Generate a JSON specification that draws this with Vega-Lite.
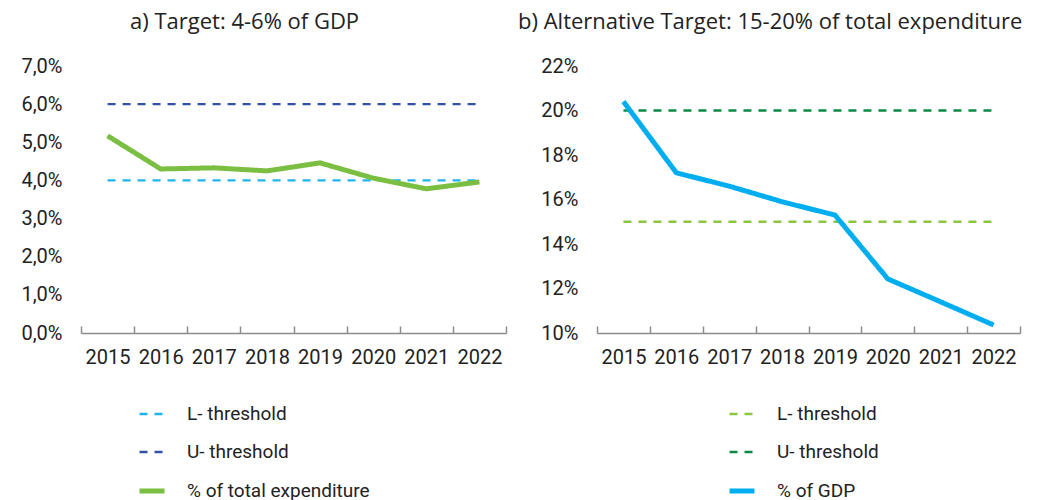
{
  "$schema": "https://vega.github.io/schema/vega-lite/v6.json",
  "background": "white",
  "padding": {"left": 20, "top": 11, "right": 10, "bottom": 0},
  "config": {
    "locale": {"number": {"decimal": ",", "thousands": ".", "grouping": [3], "currency": ["", " €"]}},
    "view": {"stroke": null},
    "font": "Roboto",
    "axisY": {"domain": false, "ticks": false, "grid": false, "labelFontSize": 20, "labelColor": "#222222", "labelPadding": 19, "labelFont": "Roboto", "title": null},
    "axisX": {"domainColor": "#8c8c8c", "domainWidth": 1.5, "tickColor": "#8c8c8c", "tickWidth": 1.5, "tickSize": -7, "tickBand": "extent", "labelAngle": 0, "labelFontSize": 20, "labelColor": "#222222", "labelPadding": 21, "labelFont": "Roboto", "title": null, "grid": false},
    "legend": {"orient": "none", "direction": "vertical", "title": null, "labelFontSize": 19, "labelColor": "#222222", "labelFont": "Roboto", "labelLimit": 400, "symbolType": "stroke", "symbolSize": 625, "rowPadding": 14, "labelOffset": 20}
  },
  "datasets": {
    "a": [
      {"year": "2015", "series": "L- threshold", "value": 0.04},
      {"year": "2016", "series": "L- threshold", "value": 0.04},
      {"year": "2017", "series": "L- threshold", "value": 0.04},
      {"year": "2018", "series": "L- threshold", "value": 0.04},
      {"year": "2019", "series": "L- threshold", "value": 0.04},
      {"year": "2020", "series": "L- threshold", "value": 0.04},
      {"year": "2021", "series": "L- threshold", "value": 0.04},
      {"year": "2022", "series": "L- threshold", "value": 0.04},
      {"year": "2015", "series": "U- threshold", "value": 0.06},
      {"year": "2016", "series": "U- threshold", "value": 0.06},
      {"year": "2017", "series": "U- threshold", "value": 0.06},
      {"year": "2018", "series": "U- threshold", "value": 0.06},
      {"year": "2019", "series": "U- threshold", "value": 0.06},
      {"year": "2020", "series": "U- threshold", "value": 0.06},
      {"year": "2021", "series": "U- threshold", "value": 0.06},
      {"year": "2022", "series": "U- threshold", "value": 0.06},
      {"year": "2015", "series": "% of total expenditure", "value": 0.0517},
      {"year": "2016", "series": "% of total expenditure", "value": 0.0430},
      {"year": "2017", "series": "% of total expenditure", "value": 0.0433},
      {"year": "2018", "series": "% of total expenditure", "value": 0.0425},
      {"year": "2019", "series": "% of total expenditure", "value": 0.0446},
      {"year": "2020", "series": "% of total expenditure", "value": 0.0406},
      {"year": "2021", "series": "% of total expenditure", "value": 0.0378},
      {"year": "2022", "series": "% of total expenditure", "value": 0.0396}
    ],
    "b": [
      {"year": "2015", "series": "L- threshold", "value": 0.15},
      {"year": "2016", "series": "L- threshold", "value": 0.15},
      {"year": "2017", "series": "L- threshold", "value": 0.15},
      {"year": "2018", "series": "L- threshold", "value": 0.15},
      {"year": "2019", "series": "L- threshold", "value": 0.15},
      {"year": "2020", "series": "L- threshold", "value": 0.15},
      {"year": "2021", "series": "L- threshold", "value": 0.15},
      {"year": "2022", "series": "L- threshold", "value": 0.15},
      {"year": "2015", "series": "U- threshold", "value": 0.20},
      {"year": "2016", "series": "U- threshold", "value": 0.20},
      {"year": "2017", "series": "U- threshold", "value": 0.20},
      {"year": "2018", "series": "U- threshold", "value": 0.20},
      {"year": "2019", "series": "U- threshold", "value": 0.20},
      {"year": "2020", "series": "U- threshold", "value": 0.20},
      {"year": "2021", "series": "U- threshold", "value": 0.20},
      {"year": "2022", "series": "U- threshold", "value": 0.20},
      {"year": "2015", "series": "% of GDP", "value": 0.204},
      {"year": "2016", "series": "% of GDP", "value": 0.172},
      {"year": "2017", "series": "% of GDP", "value": 0.166},
      {"year": "2018", "series": "% of GDP", "value": 0.159},
      {"year": "2019", "series": "% of GDP", "value": 0.153},
      {"year": "2020", "series": "% of GDP", "value": 0.1243},
      {"year": "2021", "series": "% of GDP", "value": 0.114},
      {"year": "2022", "series": "% of GDP", "value": 0.1036}
    ]
  },
  "hconcat": [
    {
      "width": 425,
      "height": 267,
      "title": {"text": "a) Target: 4-6% of GDP", "anchor": "start", "frame": "group", "dx": 49, "font": "Open Sans", "fontSize": 22, "fontWeight": "normal", "color": "#222222", "offset": 22},
      "data": {"name": "a"},
      "mark": {"type": "line"},
      "encoding": {
        "x": {"field": "year", "type": "ordinal", "scale": {"type": "band", "paddingInner": 0, "paddingOuter": 0}},
        "y": {"field": "value", "type": "quantitative", "scale": {"domain": [0, 0.07], "nice": false, "zero": false}, "axis": {"format": ".1%", "values": [0, 0.01, 0.02, 0.03, 0.04, 0.05, 0.06, 0.07]}},
        "color": {"field": "series", "type": "nominal", "scale": {"domain": ["L- threshold", "U- threshold", "% of total expenditure"], "range": ["#1fb5ea", "#3152a2", "#7bbf42"]}, "legend": {"legendX": 56, "legendY": 334}},
        "strokeDash": {"field": "series", "type": "nominal", "scale": {"domain": ["L- threshold", "U- threshold", "% of total expenditure"], "range": [[8, 7], [8, 7], [1, 0]]}, "legend": {"legendX": 56, "legendY": 334}},
        "strokeWidth": {"field": "series", "type": "nominal", "scale": {"type": "ordinal", "domain": ["L- threshold", "U- threshold", "% of total expenditure"], "range": [2.3, 2.3, 5]}, "legend": {"legendX": 56, "legendY": 334}}
      }
    },
    {
      "width": 423,
      "height": 267,
      "title": {"text": "b) Alternative Target: 15-20% of total expenditure", "anchor": "start", "frame": "group", "dx": -79, "font": "Open Sans", "fontSize": 22, "fontWeight": "normal", "color": "#222222", "offset": 22},
      "data": {"name": "b"},
      "mark": {"type": "line"},
      "encoding": {
        "x": {"field": "year", "type": "ordinal", "scale": {"type": "band", "paddingInner": 0, "paddingOuter": 0}},
        "y": {"field": "value", "type": "quantitative", "scale": {"domain": [0.10, 0.22], "nice": false, "zero": false}, "axis": {"format": ".0%", "values": [0.10, 0.12, 0.14, 0.16, 0.18, 0.20, 0.22]}},
        "color": {"field": "series", "type": "nominal", "scale": {"domain": ["L- threshold", "U- threshold", "% of GDP"], "range": ["#8cc63f", "#0a8a45", "#00aeef"]}, "legend": {"legendX": 130, "legendY": 334}},
        "strokeDash": {"field": "series", "type": "nominal", "scale": {"domain": ["L- threshold", "U- threshold", "% of GDP"], "range": [[8, 7], [8, 7], [1, 0]]}, "legend": {"legendX": 130, "legendY": 334}},
        "strokeWidth": {"field": "series", "type": "nominal", "scale": {"type": "ordinal", "domain": ["L- threshold", "U- threshold", "% of GDP"], "range": [2.3, 2.3, 5]}, "legend": {"legendX": 130, "legendY": 334}}
      }
    }
  ],
  "spacing": 91,
  "bounds": "flush",
  "resolve": {"scale": {"color": "independent", "strokeDash": "independent", "strokeWidth": "independent", "y": "independent", "x": "independent"}}
}
